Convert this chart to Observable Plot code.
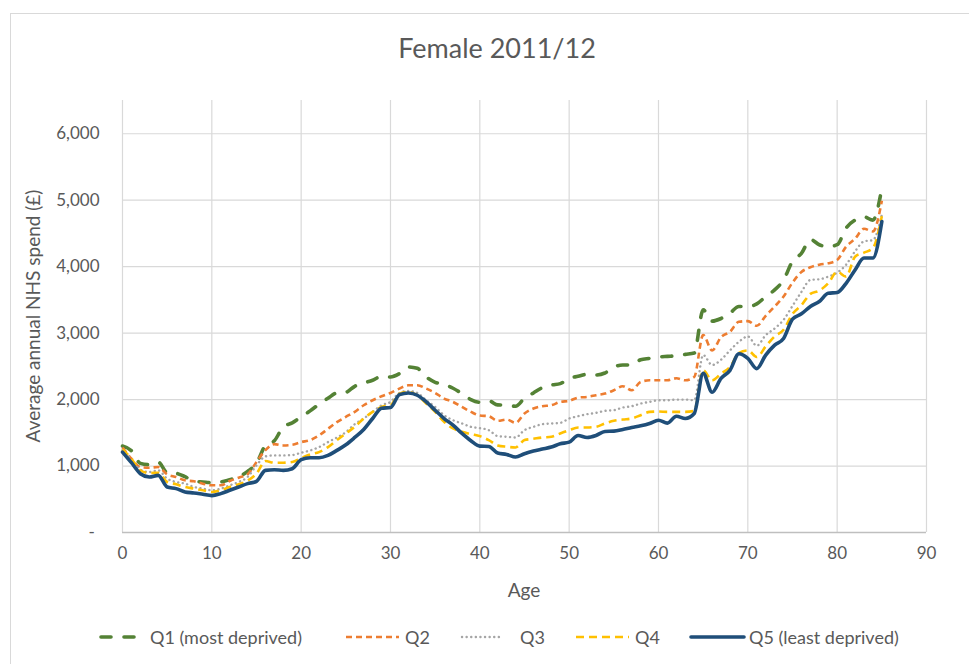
<!DOCTYPE html>
<html>
<head>
<meta charset="utf-8">
<script src="https://cdn.jsdelivr.net/npm/d3@7"></script>
<script src="https://cdn.jsdelivr.net/npm/@observablehq/plot@0.6"></script>
<style>
  html, body { margin: 0; padding: 0; background: #fff; overflow: hidden; }
  body { width: 969px; height: 664px; position: relative; font-family: Lato, "Open Sans", sans-serif; color: #595959; }
  #frame { position: absolute; left: 10px; top: 13px; width: 1000px; height: 700px; border: 1.5px solid #d9d9d9; box-sizing: border-box; }
  #title { position: absolute; left: 0; width: 994px; top: 30px; text-align: center; font-size: 27px; line-height: 36px; color: #595959; }
  #chart { position: absolute; left: 0; top: 0; }
  #xlabel { position: absolute; left: 424px; width: 200px; top: 578px; text-align: center; font-size: 19px; line-height: 24px; }
  #ylabel { position: absolute; left: 33px; top: 316px; transform: translate(-50%, -50%) rotate(-90deg); white-space: nowrap; font-size: 19px; line-height: 24px; }
  .leg { position: absolute; top: 625px; height: 24px; display: flex; align-items: center; font-size: 18px; white-space: nowrap; }
  .leg svg { display: block; }
</style>
</head>
<body>
<div id="frame"></div>
<div id="title">Female 2011/12</div>
<div id="chart"></div>
<div id="xlabel">Age</div>
<div id="ylabel">Average annual NHS spend (£)</div>
<div id="legend"></div>
<script>
// ---- data ----
const ages = [0,1,2,3,4,5,6,7,8,9,10,11,12,13,14,15,16,17,18,19,20,21,22,23,24,25,26,27,28,29,30,31,32,33,34,35,36,37,38,39,40,41,42,43,44,45,46,47,48,49,50,51,52,53,54,55,56,57,58,59,60,61,62,63,64,65,66,67,68,69,70,71,72,73,74,75,76,77,78,79,80,81,82,83,84,85];

const q1 = [1300,1230,1040,1020,1060,900,890,840,770,760,750,760,795,835,920,1040,1310,1380,1590,1650,
            1740,1830,1930,2020,2100,2110,2200,2250,2290,2350,2340,2390,2490,2470,2340,2260,2230,2170,2090,2000,
            1960,1980,1920,1915,1900,2020,2100,2180,2220,2240,2320,2350,2380,2370,2400,2490,2520,2520,2600,2620,
            2640,2650,2660,2680,2700,3350,3180,3220,3300,3400,3400,3440,3550,3650,3800,4080,4200,4410,4330,4300,
            4330,4580,4700,4750,4700,5180];

const q2 = [1280,1110,985,975,985,875,835,785,770,735,710,710,775,825,875,1060,1240,1330,1310,1320,
            1360,1390,1460,1560,1660,1740,1815,1915,1990,2050,2100,2165,2215,2215,2165,2100,2015,1965,1890,1815,
            1760,1750,1680,1700,1650,1790,1865,1900,1915,1965,1980,2030,2040,2065,2090,2140,2200,2140,2265,2290,
            2290,2290,2320,2290,2340,2970,2740,2940,3020,3170,3180,3110,3260,3400,3550,3760,3920,3990,4030,4050,
            4100,4300,4420,4570,4530,4990];

const q3 = [1240,1100,945,910,935,810,760,735,685,660,635,660,710,760,835,1010,1145,1160,1160,1165,
            1200,1235,1285,1360,1430,1510,1630,1715,1815,1915,1965,2100,2130,2100,1990,1890,1765,1690,1640,1590,
            1570,1540,1450,1440,1430,1540,1590,1630,1640,1650,1715,1750,1780,1800,1830,1840,1880,1900,1940,1965,
            1990,1990,2000,2000,1990,2670,2520,2600,2740,2870,2950,2810,2970,3070,3200,3410,3620,3800,3810,3850,
            3910,4030,4230,4380,4400,4780];

const q4 = [1250,1110,935,895,900,760,725,685,660,635,610,635,685,725,780,885,1075,1050,1050,1060,
            1120,1175,1210,1285,1390,1490,1590,1715,1815,1890,1915,2090,2115,2065,1940,1815,1665,1565,1515,1480,
            1450,1390,1310,1290,1280,1390,1410,1430,1440,1490,1540,1580,1580,1590,1640,1680,1700,1715,1765,1815,
            1820,1815,1815,1815,1830,2440,2290,2390,2490,2700,2740,2640,2800,2950,3050,3290,3420,3590,3640,3750,
            3925,3850,4150,4210,4280,4760];

const q5 = [1210,1050,885,835,860,685,660,610,595,575,555,585,635,685,735,770,935,945,935,960,
            1095,1125,1125,1160,1235,1320,1430,1550,1715,1870,1880,2075,2100,2065,1965,1840,1715,1615,1490,1380,
            1300,1295,1195,1175,1135,1185,1225,1255,1285,1335,1360,1460,1430,1460,1520,1525,1550,1580,1605,1640,
            1690,1645,1750,1715,1790,2395,2110,2320,2440,2690,2620,2465,2670,2820,2920,3210,3290,3400,3475,3600,
            3610,3750,3950,4130,4130,4680];

const seriesNames = ["Q1 (most deprived)", "Q2", "Q3", "Q4", "Q5 (least deprived)"];
const seriesValues = [q1, q2, q3, q4, q5];
const xTicks = [0,10,20,30,40,50,60,70,80,90];
const yTicks = [0,1000,2000,3000,4000,5000,6000];

// ---- styles ----
const styles = [
  {stroke: "#548235", width: 3.6, dash: "10,13", cap: "round"},
  {stroke: "#ED7D31", width: 2.6, dash: "6,4",   cap: "butt"},
  {stroke: "#A5A5A5", width: 2.4, dash: "0.1,4.5", cap: "round"},
  {stroke: "#FFC000", width: 2.6, dash: "8,5",   cap: "butt"},
  {stroke: "#1F4E79", width: 3.6, dash: null,    cap: "round"}
];

const rows = seriesNames.map((name, i) => ages.map((a, j) => ({series: name, age: a, value: seriesValues[i][j]})));

const fmt = d3.format(",");
const lineMarks = rows.map((data, i) => Plot.line(data, {
  x: "age", y: "value",
  stroke: styles[i].stroke,
  strokeWidth: styles[i].width,
  strokeDasharray: styles[i].dash || undefined,
  strokeLinecap: styles[i].cap,
  strokeLinejoin: "round",
  curve: "monotone-x"
}));

const chart = Plot.plot({
  width: 969,
  height: 615,
  marginLeft: 122,
  marginRight: 43,
  marginTop: 100,
  marginBottom: 83,
  style: {fontFamily: "Lato, 'Open Sans', sans-serif", fontSize: "17px", color: "#595959", background: "transparent", overflow: "visible"},
  x: {domain: [0, 90]},
  y: {domain: [0, 6500]},
  marks: [
    Plot.gridX(xTicks, {stroke: "#d9d9d9", strokeOpacity: 1, strokeWidth: 1.2}),
    Plot.gridY(yTicks.filter(d => d > 0), {stroke: "#d9d9d9", strokeOpacity: 1, strokeWidth: 1.2}),
    Plot.ruleY([0], {stroke: "#bfbfbf", strokeWidth: 1.3}),
    Plot.axisX(xTicks, {tickSize: 0, tickPadding: 14, label: null, fill: "#595959", tickFormat: d => String(d)}),
    Plot.axisY(yTicks, {tickSize: 0, tickPadding: 23, label: null, fill: "#595959", tickFormat: d => d === 0 ? "" : fmt(d)}),
    Plot.text([0], {y: d => d, frameAnchor: "left", dx: -34, text: () => "-", fill: "#595959", fontSize: 17}),
    ...lineMarks
  ]
});
document.getElementById("chart").appendChild(chart);

// ---- legend ----
const legPos = [
  {sx: 99,  sw: 40, tx: 150},
  {sx: 344, sw: 57, tx: 405},
  {sx: 460, sw: 45, tx: 520},
  {sx: 574, sw: 57, tx: 635},
  {sx: 689, sw: 57, tx: 749}
];
const legend = document.getElementById("legend");
seriesNames.forEach((name, i) => {
  const s = styles[i], p = legPos[i];
  const sw = document.createElement("div");
  sw.className = "leg";
  sw.style.left = p.sx + "px";
  sw.innerHTML = `<svg width="${p.sw}" height="24"><line x1="2" x2="${p.sw - 2}" y1="12" y2="12" stroke="${s.stroke}" stroke-width="${s.width}" ${s.dash ? `stroke-dasharray="${s.dash}"` : ""} stroke-linecap="${s.cap}"/></svg>`;
  legend.appendChild(sw);
  const tx = document.createElement("div");
  tx.className = "leg";
  tx.style.left = p.tx + "px";
  tx.textContent = name;
  legend.appendChild(tx);
});
</script>
</body>
</html>
